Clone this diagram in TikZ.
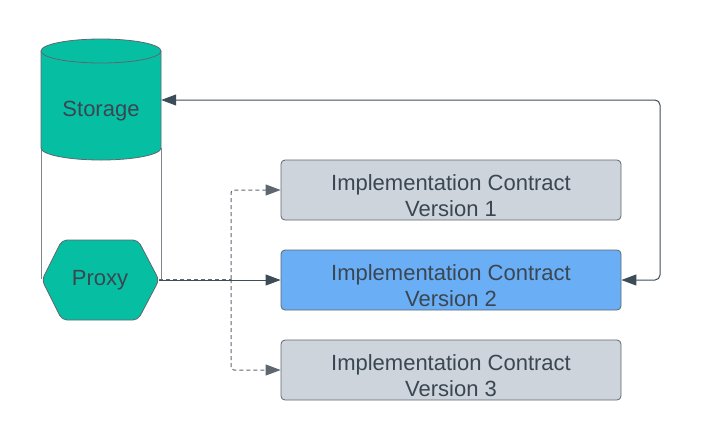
\documentclass[tikz,border=0pt]{standalone}
\usepackage{fontspec}
\setmainfont{Liberation Sans}
\usetikzlibrary{arrows.meta}
\definecolor{teal1}{HTML}{06BFA3}
\definecolor{boxgray}{HTML}{CED4DB}
\definecolor{boxblue}{HTML}{6AAFF6}
\definecolor{edge}{HTML}{5E6770}
\definecolor{ink}{HTML}{3A4651}
\definecolor{conn}{HTML}{3D4D57}
\tikzset{
  implbox/.style={draw=edge, line width=0.8pt, rounded corners=4pt, minimum width=340pt, minimum height=60pt, inner sep=0pt},
  txt/.style={text=ink, font=\fontsize{22}{26}\selectfont, align=center, inner sep=0pt},
  arrowtip/.tip={Triangle[length=15pt,width=11pt]},
  tip/.style={-arrowtip},
  solidconn/.style={draw=conn, line width=1pt, rounded corners=5pt},
  dashconn/.style={draw=edge, line width=1pt, dash pattern=on 4pt off 3pt, rounded corners=3pt},
}
\begin{document}
\begin{tikzpicture}[x=1pt,y=-1pt]
\useasboundingbox (0,0) rectangle (702,440);
% container lines
\draw[edge!80, line width=0.5pt] (41,148) -- (41,279);
\draw[edge!80, line width=0.5pt] (161,148) -- (161,279);
% storage cylinder
\draw[fill=teal1, draw=edge, line width=0.8pt] (41,51) -- (41,148) arc[start angle=180, end angle=360, x radius=60, y radius=-12] -- (161,51);
\draw[fill=teal1, draw=edge, line width=0.8pt] (101,51) ellipse[x radius=60, y radius=12];
\node[minimum width=120pt, minimum height=100pt, inner sep=0pt] (storage) at (101,100) {};
\node[txt, anchor=base] (storagetxt) at (101,116) {Storage};
% proxy hexagon
\draw[fill=teal1, draw=edge, line width=0.8pt, rounded corners=5pt] (42,280) -- (62,240) -- (138,240) -- (159,280) -- (138,320) -- (62,320) -- cycle;
\node[minimum width=117pt, minimum height=80pt, inner sep=0pt] (proxy) at (100.5,280) {};
\node[txt, anchor=base] (proxytxt) at (100,285) {Proxy};
% implementation boxes
\node[implbox, fill=boxgray] (box1) at (451,190) {};
\node[implbox, fill=boxblue] (box2) at (451,280) {};
\node[implbox, fill=boxgray] (box3) at (451,370) {};
\node[txt] (t1) at (451,195.5) {Implementation Contract\\Version 1};
\node[txt] (t2) at (451,285.5) {Implementation Contract\\Version 2};
\node[txt] (t3) at (451,375.5) {Implementation Contract\\Version 3};
% connectors
\coordinate (split) at (231,279);
\draw[dashconn] (proxy.east |- split) -- (split);
\draw[dashconn, tip] (split) -- (231,190) -- (box1.west);
\draw[dashconn, tip] (split) -- (231,370) -- (box3.west);
\draw[solidconn, tip] (proxy.east) -- (box2.west);
\draw[solidconn, arrowtip-arrowtip] (box2.east) -- (660,280) -- (660,100) -- (storage.east |- 0,100);
\end{tikzpicture}
\end{document}
